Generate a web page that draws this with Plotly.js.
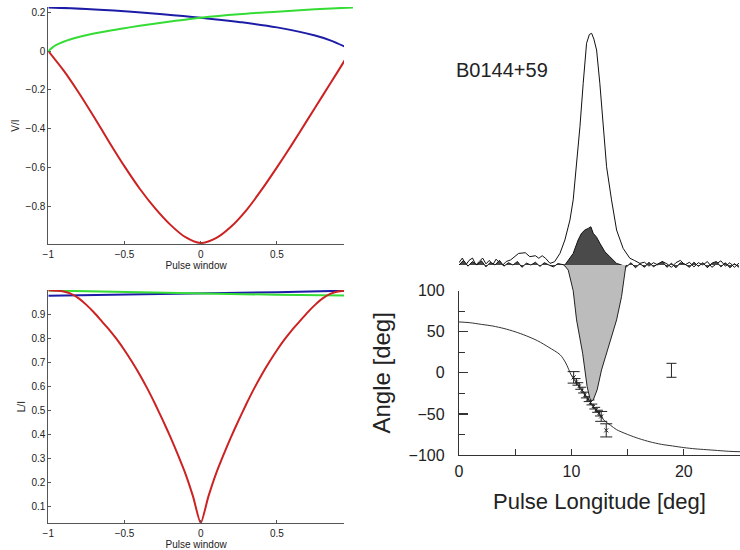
<!DOCTYPE html>
<html>
<head>
<meta charset="utf-8">
<script src="https://cdn.plot.ly/plotly-3.0.1.min.js"></script>
<style>html,body{margin:0;padding:0;background:#fff;}#chart{width:740px;height:550px;}</style>
</head>
<body>
<div id="chart"></div>
<script>
// ---------- Top-left panel: V/I vs pulse window ----------
const viRedX   = [-1, -0.9, -0.8, -0.7, -0.6, -0.5, -0.4, -0.3, -0.2, -0.1, 0, 0.1, 0.2, 0.3, 0.4, 0.5, 0.6, 0.7, 0.8, 0.9, 0.947];
const viRedY   = [0, -0.10, -0.215, -0.34, -0.47, -0.595, -0.71, -0.81, -0.895, -0.96, -0.99, -0.965, -0.905, -0.82, -0.715, -0.60, -0.48, -0.355, -0.23, -0.105, -0.045];
const viBlueX  = [-1, -0.75, -0.5, -0.25, 0, 0.25, 0.5, 0.75, 0.85, 0.947];
const viBlueY  = [0.225, 0.217, 0.205, 0.19, 0.172, 0.15, 0.122, 0.08, 0.055, 0.022];
const viGreenX = [-1, -0.97, -0.95, -0.9, -0.8, -0.7, -0.6, -0.5, -0.4, -0.2, 0, 0.25, 0.5, 0.75, 1.0];
const viGreenY = [0, 0.02, 0.03, 0.048, 0.072, 0.09, 0.105, 0.118, 0.13, 0.152, 0.172, 0.19, 0.203, 0.215, 0.225];

// ---------- Bottom-left panel: L/I vs pulse window ----------
const liRedX   = [-1, -0.94, -0.9, -0.85, -0.8, -0.75, -0.7, -0.65, -0.6, -0.55, -0.5, -0.45, -0.4, -0.35, -0.3, -0.25, -0.2, -0.15, -0.1, -0.05, 0, 0.05, 0.1, 0.15, 0.2, 0.25, 0.3, 0.35, 0.4, 0.45, 0.5, 0.55, 0.6, 0.65, 0.7, 0.75, 0.8, 0.85, 0.9, 0.94];
const liRedY   = [1.0, 0.998, 0.995, 0.985, 0.966, 0.939, 0.907, 0.871, 0.835, 0.795, 0.75, 0.701, 0.648, 0.59, 0.527, 0.46, 0.39, 0.315, 0.235, 0.14, 0.03, 0.14, 0.235, 0.315, 0.39, 0.46, 0.527, 0.59, 0.648, 0.701, 0.75, 0.795, 0.835, 0.871, 0.907, 0.939, 0.966, 0.985, 0.995, 0.998];
const liBlueX  = [-1, -0.5, 0, 0.5, 0.94];
const liBlueY  = [0.977, 0.981, 0.986, 0.992, 0.998];
const liGreenX = [-1, -0.5, 0, 0.5, 0.94];
const liGreenY = [0.999, 0.992, 0.986, 0.981, 0.978];

// ---------- Right panel: B0144+59 profile (intensity units) ----------
const profX = [0, 0.3, 0.6, 0.9, 1.2, 1.5, 1.8, 2.1, 2.4, 2.7, 3.0, 3.3, 3.6, 3.9, 4.2, 4.6, 5.3, 5.9, 6.3, 6.8, 7.1, 7.4, 7.7, 8.1, 8.5, 8.98, 9.42, 9.87, 10.16, 10.46, 10.76, 11.05, 11.35, 11.6, 11.8, 12.0, 12.24, 12.53, 12.83, 13.13, 13.57, 14.02, 14.6, 15.2, 15.6, 16.09, 16.5, 16.9, 17.3, 17.7, 18.1, 18.5, 18.9, 19.3, 19.7, 20.1, 20.5, 20.9, 21.3, 21.7, 22.1, 22.5, 22.9, 23.3, 23.7, 24.1, 24.5, 24.9];
const profI = [0.01, 0.03, 0.0, 0.02, 0.03, 0.0, 0.015, 0.03, 0.005, 0.02, 0.0, 0.025, 0.01, 0.0, 0.015, 0.022, 0.05, 0.053, 0.036, 0.04, 0.029, 0.04, 0.029, 0.007, 0.014, 0.05, 0.108, 0.194, 0.281, 0.424, 0.597, 0.784, 0.957, 0.995, 1.0, 0.975, 0.928, 0.784, 0.597, 0.424, 0.281, 0.151, 0.072, 0.029, 0.02, 0.007, 0.012, -0.005, 0.01, 0.0, 0.015, 0.005, -0.01, 0.01, 0.02, 0.0, 0.012, -0.008, 0.01, 0.0, 0.015, -0.01, 0.005, 0.018, -0.005, 0.01, -0.01, 0.008];
const circX = [0, 0.4, 0.8, 1.2, 1.6, 2.0, 2.4, 2.8, 3.2, 3.6, 4.0, 4.4, 4.8, 5.2, 5.6, 6.0, 6.4, 6.8, 7.2, 7.6, 8.0, 8.4, 8.8, 9.42, 10.16, 10.6, 10.9, 11.2, 11.5, 11.73, 11.94, 12.24, 12.53, 12.98, 13.42, 14.02, 14.46, 14.9, 15.3, 15.7, 16.1, 16.5, 16.9, 17.3, 17.7, 18.1, 18.5, 18.9, 19.3, 19.7, 20.1, 20.5, 20.9, 21.3, 21.7, 22.1, 22.5, 22.9, 23.3, 23.7, 24.1, 24.5, 24.9];
const circV = [0.0, 0.02, -0.005, 0.015, 0.0, 0.018, -0.008, 0.012, 0.0, 0.02, -0.005, 0.01, 0.0, 0.015, -0.01, 0.008, 0.0, 0.012, -0.006, 0.01, 0.0, -0.008, 0.006, 0.0, 0.05, 0.108, 0.137, 0.151, 0.158, 0.165, 0.137, 0.12, 0.094, 0.057, 0.036, 0.007, 0.0, -0.008, 0.01, -0.012, 0.006, -0.01, 0.012, -0.008, 0.005, 0.015, -0.01, 0.008, -0.012, 0.01, 0.004, -0.01, 0.012, -0.006, 0.01, -0.012, 0.008, 0.015, -0.008, 0.01, -0.012, 0.006, -0.01];
const linX = [9.3, 9.42, 9.72, 10.16, 10.46, 10.76, 11.0, 11.2, 11.4, 11.64, 11.8, 11.94, 12.29, 12.68, 13.13, 13.57, 14.02, 14.46, 14.76, 14.84, 14.95];
const linL = [0, -0.004, -0.022, -0.111, -0.237, -0.309, -0.381, -0.453, -0.525, -0.575, -0.586, -0.583, -0.539, -0.453, -0.381, -0.309, -0.237, -0.137, -0.022, -0.004, 0];

// ---------- Right panel: position angle ----------
const paCurveX = [0, 1, 2, 3, 4, 5, 6, 7, 8, 9, 9.5, 10, 10.5, 11, 11.5, 12, 12.5, 13, 13.5, 14, 15, 16, 17, 18, 19, 20, 21, 22, 23, 24, 25];
const paCurveY = [62, 61, 59, 57, 54, 50, 45, 39, 31, 22, 12, -3, -13, -22, -32, -42, -51, -59, -64, -69, -75, -80, -84, -87, -89, -91, -92.5, -93.5, -94.5, -95.5, -96];
const paWideX   = [10.2, 12.65, 13.1];
const paWideY   = [-5.5, -53, -70];
const paWideErr = [7, 6, 8];
const paNarrowX   = [10.45, 10.7, 10.95, 11.2, 11.45, 11.7, 11.95, 12.2, 12.45];
const paNarrowY   = [-11, -16, -21, -27, -32, -36, -41, -45, -49];
const paNarrowErr = [4, 4, 3.5, 3.5, 3, 3, 3, 3, 3.5];
const sysErrX = [18.9];
const sysErrY = [3.1];
const sysErr  = [8.5];

const leftXTicks = [-1, -0.5, 0, 0.5];
const viTicks = [-0.8, -0.6, -0.4, -0.2, 0, 0.2];
const liTicks = [0.1, 0.2, 0.3, 0.4, 0.5, 0.6, 0.7, 0.8, 0.9];
const paXTicks = [0, 5, 10, 15, 20, 25];
const paXTickText = ['0', '', '10', '', '20', ''];
const paYTicks = [-100, -50, 0, 50, 100];

const FONT = 'Liberation Sans, Arial, Helvetica, sans-serif';
const cRed = '#cc2222', cBlue = '#1c1ca6', cGreen = '#35dc35';

const traces = [
  {x: viBlueX, y: viBlueY, xaxis: 'x', yaxis: 'y', mode: 'lines', line: {color: cBlue, width: 2, shape: 'spline'}},
  {x: viGreenX, y: viGreenY, xaxis: 'x4', yaxis: 'y', mode: 'lines', line: {color: cGreen, width: 2, shape: 'spline'}},
  {x: viRedX, y: viRedY, xaxis: 'x', yaxis: 'y', mode: 'lines', line: {color: cRed, width: 2, shape: 'spline', smoothing: 0.8}},

  {x: liBlueX, y: liBlueY, xaxis: 'x2', yaxis: 'y2', mode: 'lines', line: {color: cBlue, width: 2}},
  {x: liGreenX, y: liGreenY, xaxis: 'x2', yaxis: 'y2', mode: 'lines', line: {color: cGreen, width: 2}},
  {x: liRedX, y: liRedY, xaxis: 'x2', yaxis: 'y2', mode: 'lines', line: {color: cRed, width: 2, shape: 'spline', smoothing: 0.6}},

  {x: paCurveX, y: paCurveY, xaxis: 'x3', yaxis: 'y3', mode: 'lines', line: {color: '#333', width: 1, shape: 'spline', smoothing: 0.8}},
  {x: paWideX, y: paWideY, xaxis: 'x3', yaxis: 'y3', mode: 'markers',
   marker: {symbol: 'x-thin-open', size: 4, color: '#222', line: {width: 1, color: '#222'}},
   error_y: {type: 'data', array: paWideErr, visible: true, color: '#222', thickness: 1, width: 6}},
  {x: paNarrowX, y: paNarrowY, xaxis: 'x3', yaxis: 'y3', mode: 'markers',
   marker: {symbol: 'x-thin-open', size: 3, color: '#222', line: {width: 1, color: '#222'}},
   error_y: {type: 'data', array: paNarrowErr, visible: true, color: '#222', thickness: 1, width: 4}},
  {x: sysErrX, y: sysErrY, xaxis: 'x3', yaxis: 'y3', mode: 'markers', marker: {size: 1, color: 'rgba(0,0,0,0)'},
   error_y: {type: 'data', array: sysErr, visible: true, color: '#222', thickness: 1, width: 5}},

  {x: profX, y: profI, xaxis: 'x3', yaxis: 'y4', mode: 'lines', line: {color: '#111', width: 1}},
  {x: circX, y: circV, xaxis: 'x3', yaxis: 'y4', mode: 'lines', fill: 'tozeroy', fillcolor: '#4a4a4a', line: {color: '#111', width: 1}},
  {x: linX, y: linL, xaxis: 'x3', yaxis: 'y4', mode: 'lines', fill: 'tozeroy', fillcolor: '#bcbcbc', line: {color: '#222', width: 1}}
];

const leftAxis = {
  showline: true, linecolor: '#555', linewidth: 1, ticks: 'inside', ticklen: 3, tickcolor: '#555',
  showgrid: false, zeroline: false, tickfont: {family: FONT, size: 10, color: '#222'}
};

const layout = {
  width: 740, height: 550,
  margin: {l: 0, r: 0, t: 0, b: 0},
  paper_bgcolor: '#fff', plot_bgcolor: 'rgba(0,0,0,0)',
  showlegend: false,
  font: {family: FONT, color: '#222'},
  xaxis: Object.assign({}, leftAxis, {domain: [0.06527, 0.46486], range: [-1, 0.94], anchor: 'y',
    tickmode: 'array', tickvals: leftXTicks, ticklabelstandoff: 1,
    title: {text: 'Pulse window', font: {family: FONT, size: 10, color: '#222'}, standoff: 1}}),
  yaxis: Object.assign({}, leftAxis, {domain: [0.55636, 0.98727], range: [-0.995, 0.227], anchor: 'x',
    tickmode: 'array', tickvals: viTicks,
    title: {text: 'V/I', font: {family: FONT, size: 10, color: '#222'}, standoff: 4}}),
  xaxis4: {domain: [0.06527, 0.47716], range: [-1, 1], anchor: 'y', visible: false, showgrid: false, zeroline: false},
  xaxis2: Object.assign({}, leftAxis, {domain: [0.06527, 0.46486], range: [-1, 0.94], anchor: 'y2',
    tickmode: 'array', tickvals: leftXTicks, ticklabelstandoff: 1,
    title: {text: 'Pulse window', font: {family: FONT, size: 10, color: '#222'}, standoff: 1}}),
  yaxis2: Object.assign({}, leftAxis, {domain: [0.04855, 0.47273], range: [0.029, 1.001], anchor: 'x2',
    tickmode: 'array', tickvals: liTicks,
    title: {text: 'L/I', font: {family: FONT, size: 10, color: '#222'}, standoff: 3}}),
  xaxis3: {domain: [0.62027, 1], range: [0, 25], anchor: 'y3',
    showline: true, linecolor: '#333', linewidth: 1.2, ticks: 'inside', ticklen: 6, tickcolor: '#333', tickwidth: 1.2,
    showgrid: false, zeroline: false, tickmode: 'array', tickvals: paXTicks, ticktext: paXTickText,
    ticklabelstandoff: 2,
    tickfont: {family: FONT, size: 16, color: '#222'},
    title: {text: 'Pulse Longitude [deg]', font: {family: FONT, size: 22, color: '#222'}, standoff: 14}},
  yaxis3: {domain: [0.17273, 0.47145], range: [-100, 100], anchor: 'x3',
    showline: true, linecolor: '#333', linewidth: 1.2, ticks: 'inside', ticklen: 9, tickcolor: '#333', tickwidth: 1.2,
    minor: {dtick: 25, tick0: 0, ticks: 'inside', ticklen: 6, tickcolor: '#333', tickwidth: 1.2, showgrid: false},
    showgrid: false, zeroline: false, tickmode: 'array', tickvals: paYTicks,
    ticklabelstandoff: 10,
    tickfont: {family: FONT, size: 16, color: '#222'},
    title: {text: 'Angle [deg]', font: {family: FONT, size: 24, color: '#222'}, standoff: 11}},
  yaxis4: {domain: [0, 1], range: [-1.2300, 1.1437], anchor: 'x3', visible: false, showgrid: false, zeroline: false},
  annotations: [
    {text: 'B0144+59', xref: 'paper', yref: 'paper', x: 501.7 / 740, y: 1 - 70 / 550,
     xanchor: 'center', yanchor: 'middle', showarrow: false, font: {family: FONT, size: 20, color: '#222'}}
  ]
};

Plotly.newPlot('chart', traces, layout, {staticPlot: true, displayModeBar: false});
</script>
</body>
</html>
